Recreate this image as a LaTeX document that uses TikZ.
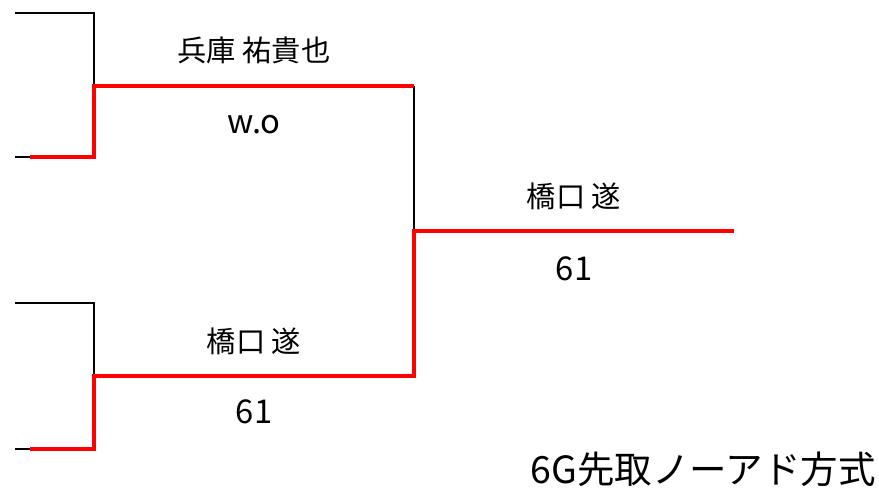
\documentclass[tikz,border=0pt]{standalone}
\usepackage{fontspec}
\setmainfont{Noto Sans CJK JP}
\begin{document}
\begin{tikzpicture}[x=0.03cm,y=-0.03cm,
  thinline/.style={black,line width=1.1pt},
  winline/.style={red,line width=3.4pt,line join=miter},
  label/.style={inner sep=0pt,font=\fontsize{25}{29}\selectfont},
  score/.style={inner sep=0pt,font=\fontsize{28}{32}\selectfont}]
\useasboundingbox (0,0) rectangle (879,488);
% Upper pair
\coordinate (a-top) at (15,13);
\coordinate (a-bot) at (15,157);
\coordinate (a-win) at (30,157);
\coordinate (a-mid) at (94,86);
\draw[thinline] (a-top) -| (a-mid);
\draw[thinline] (a-bot) -- (a-win);
% Lower pair
\coordinate (b-top) at (15,303);
\coordinate (b-bot) at (15,449);
\coordinate (b-win) at (30,449);
\coordinate (b-mid) at (94,376);
\draw[thinline] (b-top) -| (b-mid);
\draw[thinline] (b-bot) -- (b-win);
% Final
\coordinate (f-top) at (414,86);
\coordinate (f-bot) at (414,376);
\coordinate (f-mid) at (414,231);
\coordinate (champ) at (734,231);
\draw[thinline] (f-top) -- (f-mid);
% Winner paths
\draw[winline] (a-win) -| (a-mid) -- (f-top);
\draw[winline] (b-win) -| (b-mid) -- (f-bot) -- (f-mid) -- (champ);
% Names and scores
\node[label] (a-name) at (254,50) {兵庫 祐貴也};
\node[score] (a-score) at (254,125) {w.o};
\node[label] (b-name) at (254,341) {橋口 遂};
\node[score] (b-score) at (254,412) {61};
\node[label] (f-name) at (574,196) {橋口 遂};
\node[score] (f-score) at (574,269) {61};
\node[label,anchor=east,font=\fontsize{32}{37}\selectfont] (rule) at (876,469) {6G先取ノーアド方式};
\end{tikzpicture}
\end{document}
